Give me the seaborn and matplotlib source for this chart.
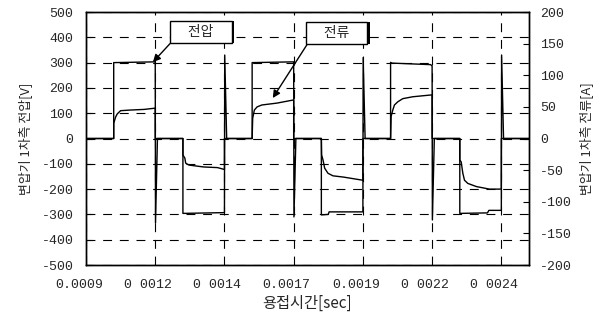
import pandas as pd
import seaborn as sns
import matplotlib.pyplot as plt
import matplotlib.patheffects as pe
import matplotlib.transforms as mtransforms

# Primary voltage trace (time in microseconds, volts)
volt_t = [900, 1000, 1000, 1150, 1151, 1158,
          1250, 1250, 1400, 1401, 1408,
          1500, 1500, 1650, 1651, 1658,
          1750, 1750, 1775, 1778, 1900, 1901, 1908,
          2000, 2000, 2005, 2145, 2150, 2151, 2158,
          2250, 2250, 2350, 2355, 2400, 2401, 2408, 2500]
volt_v = [0, 0, 300, 303, -334, 0,
          0, -296, -293, 330, 0,
          0, 300, 303, -310, 0,
          0, -302, -300, -290, -290, 320, 0,
          0, 301, 298, 292, 286, -322, 0,
          0, -296, -294, -284, -284, 330, 0, 0]

# Primary current trace (time in microseconds, amperes)
curr_t = [900, 1000, 1000, 1007, 1013, 1025, 1060, 1110, 1150, 1150,
          1250, 1250, 1257, 1260, 1272, 1325, 1375, 1400, 1400,
          1500, 1502, 1508, 1518, 1535, 1590, 1650, 1650,
          1750, 1751, 1756, 1762, 1774, 1792, 1830, 1900, 1900,
          2000, 2002, 2008, 2014, 2026, 2044, 2080, 2150, 2150,
          2250, 2250, 2255, 2261, 2267, 2279, 2310, 2357, 2400, 2400, 2500]
curr_a = [0, 0, 24, 34, 39, 44, 45, 46, 48, 0,
          0, -26, -31, -39, -42, -45, -46, -49, 0,
          0, 32, 45, 50, 53, 56, 61, 0,
          0, -26, -34, -47, -55, -59, -61, -66, 0,
          0, 35, 45, 53, 58, 63, 66, 69, 0,
          0, -34, -37, -55, -66, -71, -76, -80, -80, 0, 0]

xtick_pos = [0.0009, 0.00115, 0.0014, 0.00165, 0.0019, 0.00215, 0.0024]
xtick_labels = ['0.0009', '0 0012', '0 0014', '0.0017', '0.0019', '0 0022', '0 0024']
volt_ticks = list(range(-500, 501, 100))
curr_ticks = list(range(-200, 201, 50))

volt_df = pd.DataFrame({'t': [v / 1e6 for v in volt_t], 'V': volt_v})
curr_df = pd.DataFrame({'t': [v / 1e6 for v in curr_t], 'A': curr_a})

sns.set_style('white')
plt.rcParams['font.family'] = ['Liberation Mono', 'DejaVu Sans']
plt.rcParams['axes.unicode_minus'] = False
cjk = ['Noto Sans CJK KR', 'DejaVu Sans']

fig = plt.figure(figsize=(5.94, 3.22), dpi=100)
ax = fig.add_axes([0.1448, 0.177, 0.7458, 0.7857])
ax2 = ax.twinx()

sns.lineplot(data=volt_df, x='t', y='V', ax=ax, color='k', lw=1.0,
             estimator=None, sort=False)
sns.lineplot(data=curr_df, x='t', y='A', ax=ax2, color='k', lw=1.0,
             estimator=None, sort=False)

ax.set_xlim(0.0009, 0.0025)
ax.set_ylim(-500, 500)
ax2.set_ylim(-200, 200)
ax.set_xticks(xtick_pos)
ax.set_xticklabels(xtick_labels)
ax.set_yticks(volt_ticks)
ax2.set_yticks(curr_ticks)

ax.grid(True, color='k', lw=0.8, ls=(0, (8, 7)))
ax2.grid(False)

for a in (ax, ax2):
    for s in a.spines.values():
        s.set_color('k')
        s.set_linewidth(1.0)
ax.tick_params(axis='both', direction='in', length=4, color='k', labelsize=9.5)
ax.tick_params(axis='x', pad=10)
ax.tick_params(axis='y', pad=9)
ax2.tick_params(axis='y', direction='in', length=4, color='k', labelsize=9.5, pad=8)

# the scanned x labels sit a little left of their gridlines
shift = mtransforms.ScaledTranslation(-0.07, 0, fig.dpi_scale_trans)
for lbl in ax.get_xticklabels():
    lbl.set_transform(lbl.get_transform() + shift)

ax.set_xlabel('용접시간[sec]', family=cjk, fontsize=11, labelpad=3)
ax.set_ylabel('변압기 1차측 전압[V]', family=cjk, fontsize=9.3, labelpad=7)
ax2.set_ylabel('변압기 1차측 전류[A]', family=cjk, fontsize=9.3, labelpad=5)

box = dict(boxstyle='square,pad=0.3', fc='white', ec='k', lw=1)
arrow = dict(arrowstyle='-|>', color='k', lw=1, mutation_scale=11,
             shrinkA=0, shrinkB=0, relpos=(0, 0))
for label, tip, txt in [('\u3000전압\u3000', (0.0011417, 302), (0.001315, 421)),
                        ('\u3000전류\u3000', (0.0015745, 160), (0.001805, 417))]:
    ann = ax.annotate(label, xy=tip, xytext=txt, ha='center', va='center',
                      family=cjk, fontsize=10, bbox=box, arrowprops=arrow)
    ann.get_bbox_patch().set_path_effects(
        [pe.SimplePatchShadow(offset=(2, 0), shadow_rgbFace='k', alpha=1.0), pe.Normal()])

fig.savefig('out.png', dpi=100)
